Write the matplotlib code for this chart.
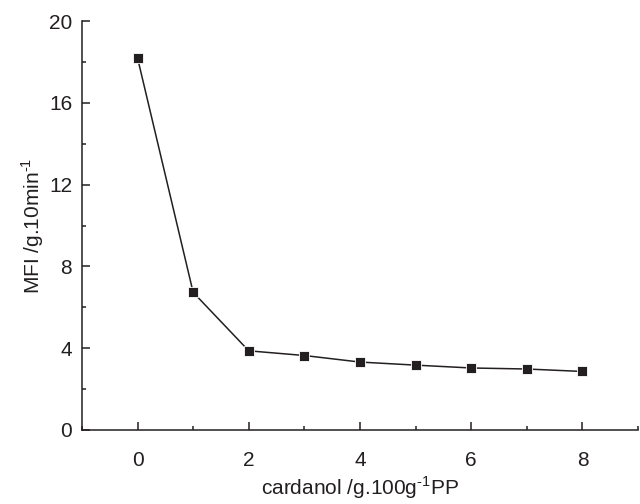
import matplotlib
matplotlib.use("Agg")
import matplotlib.pyplot as plt
from matplotlib.ticker import MultipleLocator

cardanol = [0, 1, 2, 3, 4, 5, 6, 7, 8]
mfi = [18.2, 6.73, 3.87, 3.64, 3.32, 3.17, 3.03, 2.98, 2.86]

plt.rcParams['font.family'] = ['Liberation Sans', 'DejaVu Sans']
plt.rcParams['mathtext.fontset'] = 'custom'
plt.rcParams['mathtext.rm'] = 'Liberation Sans'
fig = plt.figure(figsize=(6.4, 5.04), dpi=100)
ax = fig.add_axes([0.128, 0.147, 0.869, 0.811])
ink = '#231f20'
ax.plot(cardanol, mfi, '-', color=ink, lw=1.1, marker='s', ms=7,
        markerfacecolor=ink, markeredgecolor='white', markeredgewidth=0.6)
ax.set_xlim(-1, 9)
ax.set_ylim(0, 20)
ax.xaxis.set_major_locator(MultipleLocator(2))
ax.xaxis.set_minor_locator(MultipleLocator(1))
ax.yaxis.set_major_locator(MultipleLocator(4))
ax.yaxis.set_minor_locator(MultipleLocator(2))
for s in ['top', 'right']:
    ax.spines[s].set_visible(False)
for s in ['left', 'bottom']:
    ax.spines[s].set_linewidth(1.1)
    ax.spines[s].set_color(ink)
ax.tick_params(which='major', direction='in', length=6, width=1.1, labelsize=15,
               colors=ink)
ax.tick_params(axis='x', which='major', pad=15)
ax.tick_params(axis='y', which='major', pad=7)
ax.tick_params(which='minor', direction='in', length=3, width=1.1, colors=ink)
ax.set_xlabel(r'cardanol /g.100g$^{\text{-1}}$PP', fontsize=15, color=ink, labelpad=3)
ax.set_ylabel(r'MFI /g.10min$^{\text{-1}}$', fontsize=15, color=ink, labelpad=2)
fig.savefig('out.png', dpi=100)
